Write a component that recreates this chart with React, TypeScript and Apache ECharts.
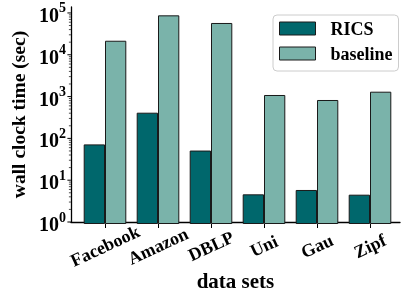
import React, { useEffect, useRef } from 'react';
import * as echarts from 'echarts';

const categories = ['Facebook', 'Amazon', 'DBLP', 'Uni', 'Gau', 'Zipf'];
const seriesNames = ['RICS', 'baseline'];
const ricsValues = [77, 434, 55, 5.05, 6.4, 4.95];
const baselineValues = [22000, 88000, 58000, 1140, 868, 1365];
const yMin = 1;
const yMax = 138700;
const xAxisTitle = 'data sets';
const yAxisTitle = 'wall clock time (sec)';

const FONT = "'Liberation Serif', 'Times New Roman', serif";

export default function App() {
  const ref = useRef<HTMLDivElement>(null);
  useEffect(() => {
    const chart = echarts.init(ref.current!, null, { renderer: 'svg' });
    const yTicks: number[] = [];
    for (let e = 0; e <= 5; e++) {
      for (let m = 1; m <= 9; m++) {
        const v = m * Math.pow(10, e);
        if (v <= yMax) yTicks.push(v);
      }
    }
    const isPow = (v: number) => {
      const l = Math.log10(v);
      return Math.abs(l - Math.round(l)) < 1e-9;
    };
    chart.setOption({
      animation: false,
      legend: {
        data: seriesNames,
        orient: 'vertical',
        left: 273,
        top: 15,
        padding: [1, 6, 5, 6],
        itemGap: 0,
        itemWidth: 36,
        itemHeight: 13,
        icon: 'rect',
        borderColor: '#cccccc',
        borderWidth: 1,
        borderRadius: 4,
        backgroundColor: '#ffffff',
        itemStyle: { borderColor: '#1a1a1a', borderWidth: 1 },
        textStyle: {
          fontFamily: FONT,
          fontWeight: 'bold',
          fontSize: 18,
          color: '#000',
          lineHeight: 25,
          padding: [0, 0, 0, 10],
        },
      },
      grid: [
        { left: 68, top: 7, width: 332, height: 217 },
        { left: 78.5, top: 7, width: 318, height: 217 },
      ],
      xAxis: [
        {
          type: 'value',
          gridIndex: 0,
          min: 0,
          max: 1,
          axisLine: { show: true, lineStyle: { color: '#000', width: 1.3 } },
          axisTick: { show: false },
          axisLabel: { show: false },
          splitLine: { show: false },
          name: xAxisTitle,
          nameLocation: 'middle',
          nameGap: 48,
          nameTextStyle: { fontFamily: FONT, fontWeight: 'bold', fontSize: 21, color: '#000' },
        },
        {
          type: 'category',
          gridIndex: 1,
          data: categories,
          axisLine: { show: false },
          axisTick: { show: true, alignWithLabel: true, length: 4, lineStyle: { color: '#000', width: 1 } },
          axisLabel: {
            rotate: 25,
            align: 'center',
            verticalAlign: 'middle',
            margin: 22,
            interval: 0,
            fontFamily: FONT,
            fontWeight: 'bold',
            fontSize: 18,
            color: '#000',
          },
        },
      ],
      yAxis: [
        {
          type: 'log',
          gridIndex: 0,
          min: yMin,
          max: yMax,
          logBase: 10,
          axisLine: { show: true, lineStyle: { color: '#000', width: 1.3 } },
          axisTick: { show: false },
          minorTick: { show: false },
          splitLine: { show: false },
          axisLabel: {
            margin: 5,
            showMaxLabel: false,
            formatter: (v: number) => (isPow(v) ? `{b|10}{s|${Math.round(Math.log10(v))}}` : ''),
            rich: {
              b: { fontFamily: FONT, fontWeight: 'bold', fontSize: 20, color: '#000', lineHeight: 24, verticalAlign: 'bottom' },
              s: { fontFamily: FONT, fontWeight: 'bold', fontSize: 14, color: '#000', lineHeight: 14, verticalAlign: 'top' },
            },
          },
          name: yAxisTitle,
          nameLocation: 'middle',
          nameGap: 34,
          nameTextStyle: { fontFamily: FONT, fontWeight: 'bold', fontSize: 19.5, color: '#000' },
        },
        {
          type: 'log',
          gridIndex: 1,
          min: yMin,
          max: yMax,
          logBase: 10,
          show: false,
        },
      ],
      series: [
        {
          name: seriesNames[0],
          type: 'bar',
          xAxisIndex: 1,
          yAxisIndex: 1,
          data: ricsValues,
          barWidth: 21.3,
          barGap: '0%',
          itemStyle: { color: '#00676c', borderColor: '#1a1a1a', borderWidth: 1 },
        },
        {
          name: seriesNames[1],
          type: 'bar',
          xAxisIndex: 1,
          yAxisIndex: 1,
          data: baselineValues,
          barWidth: 21.3,
          barGap: '0%',
          itemStyle: { color: '#7ab3aa', borderColor: '#1a1a1a', borderWidth: 1 },
        },
        {
          name: 'yticks',
          type: 'custom',
          xAxisIndex: 0,
          yAxisIndex: 0,
          silent: true,
          clip: false,
          data: yTicks.map((v) => [0, v]),
          renderItem: (params: any, api: any) => {
            const v = api.value(1);
            const p = api.coord([0, v]);
            const major = isPow(v);
            const len = major ? 3.5 : 2;
            return {
              type: 'line',
              shape: { x1: p[0] - len, y1: p[1], x2: p[0], y2: p[1] },
              style: { stroke: '#000', lineWidth: major ? 1 : 0.7 },
            };
          },
        },
      ],
    });
    return () => chart.dispose();
  }, []);
  return <div ref={ref} style={{ position: 'fixed', left: 0, top: 0, width: 401, height: 296 }} />;
}
